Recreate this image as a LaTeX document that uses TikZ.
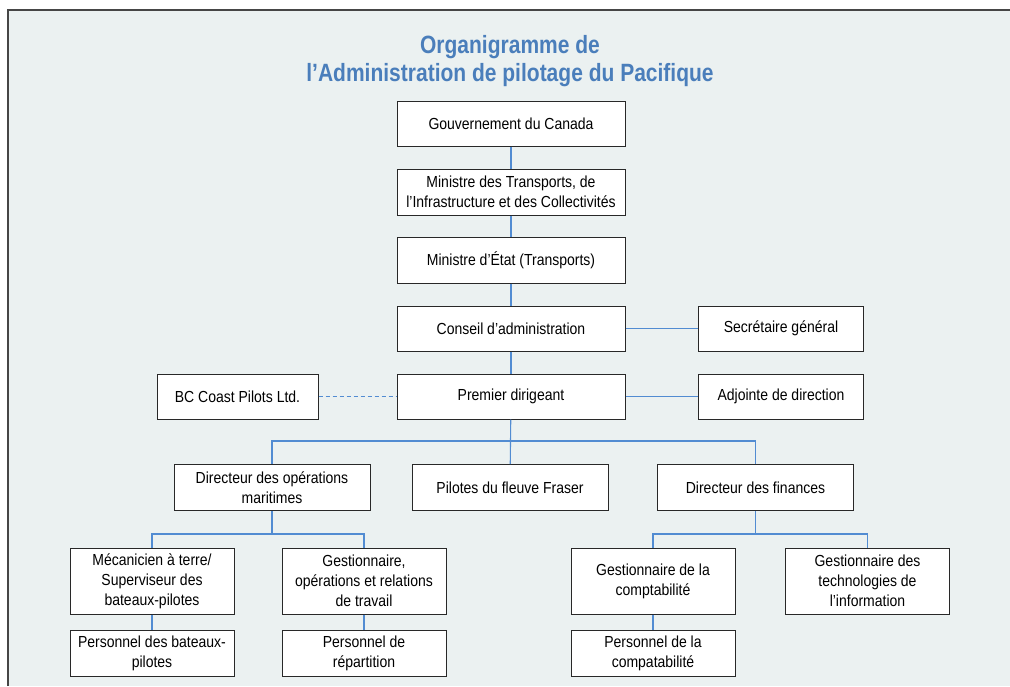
\documentclass[tikz,border=0pt]{standalone}
\usepackage{fontspec}
\setmainfont{Liberation Sans}[FakeStretch=0.875]
\newfontfamily\titlefont{Liberation Sans}[FakeStretch=0.84]
\usepackage{xcolor}
\usetikzlibrary{positioning,calc}
\definecolor{bgpanel}{RGB}{235,241,241}
\definecolor{titleblue}{RGB}{74,126,187}
\definecolor{linkblue}{RGB}{82,140,210}
\definecolor{framegray}{RGB}{70,70,70}
\definecolor{boxedge}{RGB}{40,40,40}

\begin{document}
\begin{tikzpicture}[x=1pt, y=-1pt,
    box/.style={draw=boxedge, line width=1pt, fill=white, align=center,
      inner sep=2pt, font=\fontsize{16}{20}\selectfont},
    wide/.style={box, minimum width=228pt, minimum height=45pt},
    side/.style={box, minimum width=165pt, minimum height=45pt},
    mid/.style={box, minimum width=196pt, minimum height=46pt},
    low/.style={box, minimum width=164pt, minimum height=66pt},
    staff/.style={box, minimum width=164pt, minimum height=46pt},
    link/.style={draw=linkblue, line width=1.1pt}]
  \useasboundingbox (0,0) rectangle (1010,686);

  % Panel and frame
  \fill[bgpanel] (8,10) rectangle (1010,686);
  \draw[framegray, line width=2pt] (8,686) -- (8,10) -- (1010,10);

  % Title
  \node[titleblue, align=center, font=\titlefont\bfseries\fontsize{25}{28}\selectfont]
    (title) at (510,61) {Organigramme de\\l’Administration de pilotage du Pacifique};

  % Top of the chain
  \node[wide] (gouv) at (511,123.5) {Gouvernement du Canada};
  \node[wide, minimum height=46pt] (mintr) at (511,192) {Ministre des Transports, de\\l’Infrastructure et des Collectivités};
  \node[wide, minimum height=46pt] (minet) at (511,260) {Ministre d’État (Transports)};
  \node[wide] (conseil) at (511,328.5) {Conseil d’administration};
  \node[side] (secgen) at (781,328.5) {Secrétaire général};
  \node[wide] (premier) at (511,396.5) {Premier dirigeant};
  \node[box, minimum width=161pt, minimum height=45pt] (bcpilots) at (237.5,396.5) {BC Coast Pilots Ltd.};
  \node[side] (adjointe) at (781,396.5) {Adjointe de direction};

  % Directors
  \node[mid] (dirops) at (272,487.5) {Directeur des opérations\\maritimes};
  \node[mid] (fraser) at (510,487.5) {Pilotes du fleuve Fraser};
  \node[mid] (dirfin) at (755.5,487.5) {Directeur des finances};

  % Managers
  \node[low] (mecan) at (152,581) {Mécanicien à terre/\\Superviseur des\\bateaux-pilotes};
  \node[low] (gestops) at (364,581) {Gestionnaire,\\opérations et relations\\de travail};
  \node[low] (gestcpt) at (653,581) {Gestionnaire de la\\comptabilité};
  \node[low] (gestti) at (867.5,581) {Gestionnaire des\\technologies de\\l’information};

  % Staff
  \node[staff] (persbat) at (152,653) {Personnel des bateaux-\\pilotes};
  \node[staff] (persrep) at (364,653) {Personnel de\\répartition};
  \node[staff] (perscpt) at (653,653) {Personnel de la\\compatabilité};

  % Connectors
  \draw[link] (gouv) -- (mintr);
  \draw[link] (mintr) -- (minet);
  \draw[link] (minet) -- (conseil);
  \draw[link] (conseil) -- (premier);
  \draw[link] (conseil) -- (secgen);
  \draw[link] (premier) -- (adjointe);
  \draw[link, dash pattern=on 4pt off 3pt] (bcpilots) -- (premier);
  \draw[link] (premier) -- (fraser);

  \coordinate (topbar) at (511,441);
  \draw[link] (dirops.north) |- (topbar) -| (dirfin.north);

  \coordinate (opsbar) at (272,534);
  \draw[link] (dirops) -- (opsbar);
  \draw[link] (mecan.north) |- (opsbar) -| (gestops.north);

  \coordinate (finbar) at (755.5,534);
  \draw[link] (dirfin) -- (finbar);
  \draw[link] (gestcpt.north) |- (finbar) -| (gestti.north);

  \draw[link] (mecan) -- (persbat);
  \draw[link] (gestops) -- (persrep);
  \draw[link] (gestcpt) -- (perscpt);
\end{tikzpicture}
\end{document}
